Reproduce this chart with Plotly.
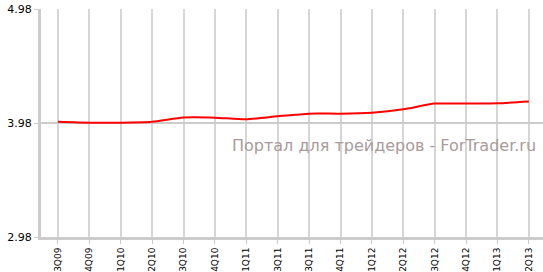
import plotly.graph_objects as go

quarters = ["3Q09", "4Q09", "1Q10", "2Q10", "3Q10", "4Q10", "1Q11", "3Q11", "3Q11",
            "4Q11", "1Q12", "2Q12", "3Q12", "4Q12", "1Q13", "2Q13"]
values = [3.991, 3.983, 3.983, 3.991, 4.028, 4.027, 4.013, 4.039, 4.062,
          4.062, 4.071, 4.100, 4.150, 4.150, 4.153, 4.168]
y_ticks = [2.98, 3.98, 4.98]
watermark = "Портал для трейдеров - ForTrader.ru"

positions = list(range(len(quarters)))

fig = go.Figure()
fig.add_trace(go.Scatter(
    x=positions, y=values, mode="lines",
    line=dict(color="#ff0000", width=2, shape="spline", smoothing=0.6),
    hoverinfo="skip", showlegend=False,
))

fig.add_annotation(
    text=watermark, xref="paper", yref="paper", x=0.99, y=0.40,
    xanchor="right", yanchor="middle", showarrow=False,
    font=dict(family="DejaVu Sans", size=16, color="#a99b9b"),
)

fig.update_layout(
    width=543, height=272,
    margin=dict(l=41, r=0, t=9, b=35),
    paper_bgcolor="white", plot_bgcolor="white",
    font=dict(family="DejaVu Sans", color="#000000"),
    xaxis=dict(
        range=[-0.54, 15.45], tickmode="array", tickvals=positions, ticktext=quarters,
        tickangle=-90, tickfont=dict(size=9, family="DejaVu Sans"),
        showgrid=True, gridcolor="#d6d6d6", gridwidth=2,
        showline=True, linecolor="#cccccc", linewidth=3,
        ticks="outside", ticklen=4, tickcolor="#cccccc", tickwidth=1,
        zeroline=False, fixedrange=True,
    ),
    yaxis=dict(
        range=[2.98, 4.98], tickmode="array", tickvals=y_ticks,
        ticktext=[f"{v:.2f}" for v in y_ticks],
        tickfont=dict(size=11, family="DejaVu Sans"),
        showgrid=True, gridcolor="#cccccc", gridwidth=2,
        showline=True, linecolor="#cccccc", linewidth=3,
        ticks="outside", ticklen=4, tickcolor="#cccccc", tickwidth=1,
        zeroline=False, fixedrange=True,
    ),
)

fig.write_html("out.html")
